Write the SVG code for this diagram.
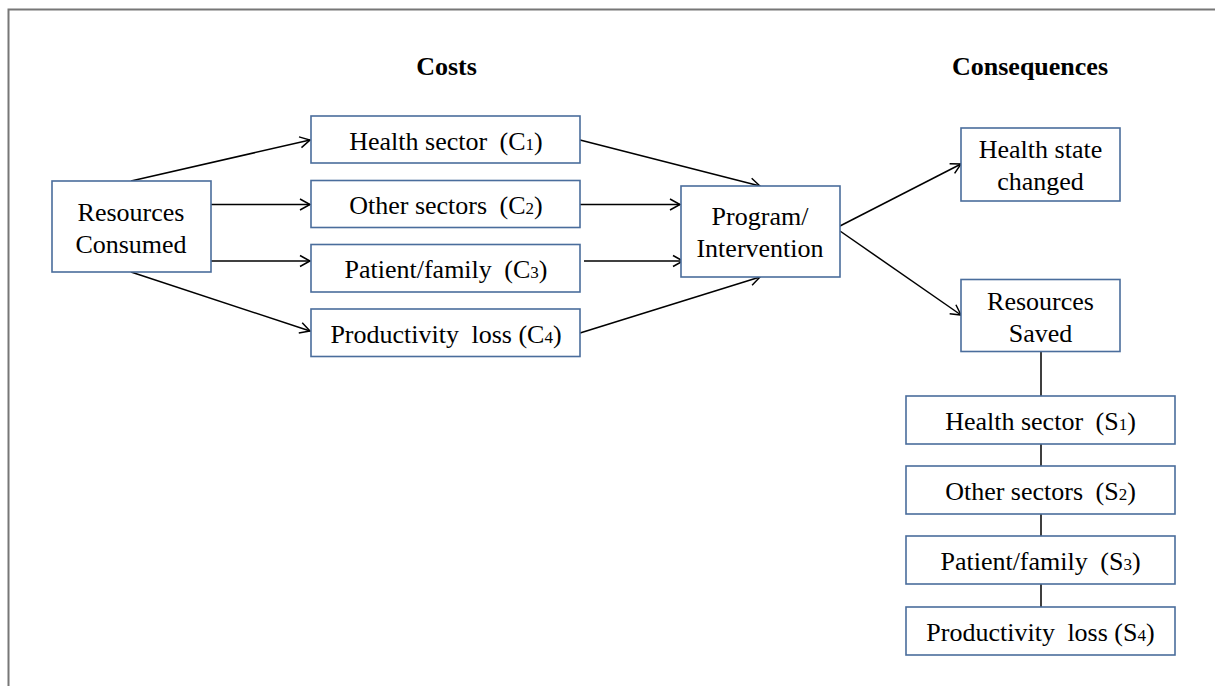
<svg xmlns="http://www.w3.org/2000/svg" width="1215" height="686" viewBox="0 0 1215 686">
<defs>
<marker id="arr" markerUnits="userSpaceOnUse" markerWidth="14" markerHeight="14" refX="11" refY="6" orient="auto" viewBox="0 0 14 12">
<path d="M1,0.5 L11,6 L1,11.5" fill="none" stroke="#000" stroke-width="1.5"/>
</marker>
<style>
.box{fill:#fff;stroke:#4a6d9c;stroke-width:1.6}
.t{font-family:"Liberation Serif","Times New Roman",serif;font-size:26px;fill:#000;text-anchor:middle}
.h{font-family:"Liberation Serif","Times New Roman",serif;font-size:26px;font-weight:bold;fill:#000;text-anchor:middle}
.s{font-size:17px}
.c{stroke:#000;stroke-width:1.5;fill:none}
.a{stroke:#000;stroke-width:1.5;fill:none;marker-end:url(#arr)}
</style>
</defs>
<rect width="1215" height="686" fill="#fff"/>
<path d="M8.5,686 V9.5 H1215" fill="none" stroke="#777" stroke-width="2"/>
<text class="h" x="446.5" y="75">Costs</text>
<text class="h" x="1030" y="75">Consequences</text>
<g id="connectors">
<path class="a" d="M131,181 L310,140"/>
<path class="a" d="M211,204.5 L310,204.5"/>
<path class="a" d="M211,261 L310,261"/>
<path class="a" d="M131,272 L310,331"/>
<path class="a" d="M580,140 L760,186"/>
<path class="a" d="M580,204.5 L680,204.5"/>
<path class="a" d="M584,261 L683,261"/>
<path class="a" d="M580,333 L760,277"/>
<path class="a" d="M838,227 L961,164"/>
<path class="a" d="M840,231 L961,315"/>
<path class="c" d="M1041,352 V396 M1041,444 V466 M1041,514 V536 M1041,584 V607"/>
</g>
<g id="resources-consumed">
<rect class="box" x="52" y="181" width="159" height="91"/>
<text class="t" x="131" y="221">Resources</text>
<text class="t" x="131" y="253">Consumed</text>
</g>
<g id="c1">
<rect class="box" x="311" y="116" width="269" height="47"/>
<text class="t" x="446" y="150">Health sector <tspan dx="6">(C</tspan><tspan class="s">1</tspan>)</text>
</g>
<g id="c2">
<rect class="box" x="311" y="180.5" width="269" height="47"/>
<text class="t" x="446" y="214">Other sectors <tspan dx="6">(C</tspan><tspan class="s">2</tspan>)</text>
</g>
<g id="c3">
<rect class="box" x="311" y="244.5" width="269" height="47.5"/>
<text class="t" x="446" y="278">Patient/family <tspan dx="6">(C</tspan><tspan class="s">3</tspan>)</text>
</g>
<g id="c4">
<rect class="box" x="311" y="309" width="269" height="47.5"/>
<text class="t" x="446" y="343">Productivity <tspan dx="6">loss</tspan> (C<tspan class="s">4</tspan>)</text>
</g>
<g id="program">
<rect class="box" x="681" y="186" width="159" height="91"/>
<text class="t" x="760" y="225">Program/</text>
<text class="t" x="760" y="257">Intervention</text>
</g>
<g id="health-state">
<rect class="box" x="961" y="128" width="159" height="73"/>
<text class="t" x="1040.5" y="158">Health state</text>
<text class="t" x="1040.5" y="190">changed</text>
</g>
<g id="resources-saved">
<rect class="box" x="961" y="279.5" width="159" height="72"/>
<text class="t" x="1040.5" y="310">Resources</text>
<text class="t" x="1040.5" y="342">Saved</text>
</g>
<g id="s1">
<rect class="box" x="906" y="396" width="269" height="48"/>
<text class="t" x="1040.5" y="430">Health sector <tspan dx="6">(S</tspan><tspan class="s">1</tspan>)</text>
</g>
<g id="s2">
<rect class="box" x="906" y="466" width="269" height="48"/>
<text class="t" x="1040.5" y="500">Other sectors <tspan dx="6">(S</tspan><tspan class="s">2</tspan>)</text>
</g>
<g id="s3">
<rect class="box" x="906" y="536" width="269" height="48"/>
<text class="t" x="1040.5" y="570">Patient/family <tspan dx="6">(S</tspan><tspan class="s">3</tspan>)</text>
</g>
<g id="s4">
<rect class="box" x="906" y="607" width="269" height="48"/>
<text class="t" x="1040.5" y="641">Productivity <tspan dx="6">loss</tspan> (S<tspan class="s">4</tspan>)</text>
</g>
</svg>
